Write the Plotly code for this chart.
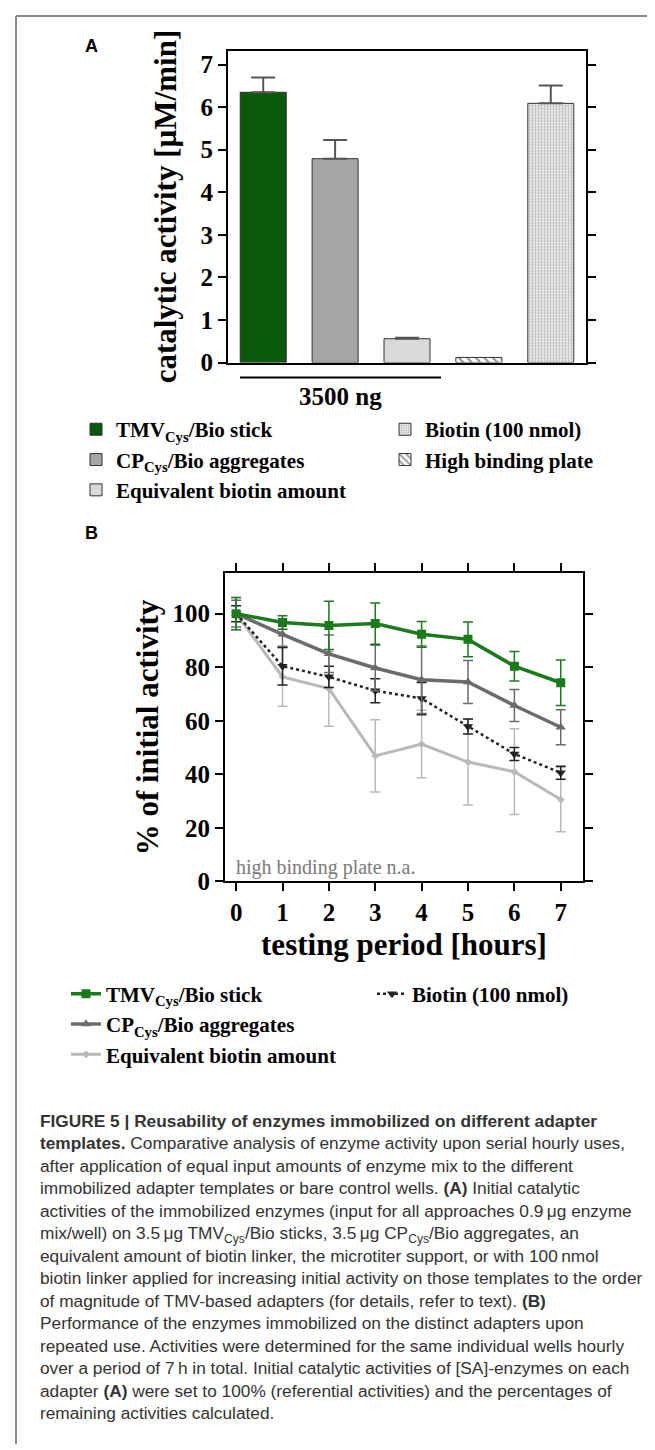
import plotly.graph_objects as go

# ---------------- Panel A data ----------------
cat_a = ["TMV<sub>Cys</sub>/Bio stick", "CP<sub>Cys</sub>/Bio aggregates",
         "Equivalent biotin amount", "High binding plate", "Biotin (100 nmol)"]
pos_a = [0, 1, 2, 3, 4]
act_a = [6.35, 4.79, 0.56, 0.12, 6.09]
err_a = [0.35, 0.44, 0.02, 0.0, 0.42]
legend_col_a = ["legend", "legend", "legend", "legend2", "legend2"]
rank_a = [1, 2, 3, 2, 1]

# ---------------- Panel B data ----------------
hours = [0, 1, 2, 3, 4, 5, 6, 7]
tmv = [100, 96.7, 95.6, 96.3, 92.3, 90.4, 80.4, 74.2]
tmv_err = [6, 2.5, 9, 7.7, 4.8, 6.5, 5.5, 8.5]
cp = [100, 92.3, 85.0, 79.7, 75.3, 74.5, 65.7, 57.6]
cp_err = [5, 4.5, 7, 8.5, 12.6, 8, 6, 6.5]
eq = [100, 76.4, 72.0, 46.9, 51.3, 44.6, 41.0, 30.6]
eq_err = [6, 11, 14, 13.5, 12.6, 16, 16, 12]
bio = [100, 80.4, 76.4, 71.2, 68.3, 57.9, 47.6, 40.6]
bio_err = [3, 7, 4, 4.5, 6, 2.8, 2.4, 2.4]
y_ticks_a = [0, 1, 2, 3, 4, 5, 6, 7]
y_ticks_b = [0, 20, 40, 60, 80, 100]

W, H = 655, 1450
def px(x): return x / W
def py(y): return 1 - y / H

SERIF = "Liberation Serif, Times New Roman, serif"
SANS = "Liberation Sans, Arial, sans-serif"

fig = go.Figure()

bar_styles = [
    dict(color="#0b5a0b", pattern=dict(shape="")),
    dict(color="#a5a5a8", pattern=dict(shape="")),
    dict(color="#d9d9d9", pattern=dict(shape="")),
    dict(color="white", pattern=dict(shape="\\", fgcolor="#222", bgcolor="white", size=6, solidity=0.35)),
    dict(color="white", pattern=dict(shape=".", fgcolor="#777", bgcolor="#f4f4f4", size=3, solidity=0.45)),
]
for i in range(5):
    st = bar_styles[i]
    fig.add_trace(go.Bar(
        x=[pos_a[i]], y=[act_a[i]], name=cat_a[i], width=0.64,
        marker=dict(color=st["color"], pattern=st["pattern"], line=dict(color="#333", width=1)),
        error_y=dict(type="data", array=[err_a[i]], arrayminus=[0], symmetric=False,
                     color="#555", thickness=2, width=12, visible=err_a[i] > 0),
        legend=legend_col_a[i], legendrank=rank_a[i], xaxis="x", yaxis="y",
    ))

# Panel B lines (draw lightest first)
series_b = [
    ("Equivalent biotin amount", eq, eq_err, "#b9b9b9", "solid", 3, "diamond", 6, "legend3", 3),
    ("Biotin (100 nmol)", bio, bio_err, "#222222", "dot", 2.5, "triangle-down", 9, "legend4", 1),
    ("CP<sub>Cys</sub>/Bio aggregates", cp, cp_err, "#6b6b6b", "solid", 3.5, "triangle-up", 9, "legend3", 2),
    ("TMV<sub>Cys</sub>/Bio stick", tmv, tmv_err, "#1b7a1b", "solid", 3.5, "square", 9, "legend3", 1),
]
for name, vals, errs, col, dash, lw, sym, ms, lg, rk in series_b:
    fig.add_trace(go.Scatter(
        x=hours, y=vals, name=name, mode="lines+markers",
        line=dict(color=col, width=lw, dash=dash),
        marker=dict(symbol=sym, size=ms, color=col),
        error_y=dict(type="data", array=errs, color=col, thickness=1.5, width=5),
        legend=lg, legendrank=rk, xaxis="x2", yaxis="y2",
    ))

axis_common = dict(showgrid=False, zeroline=False, linecolor="black", linewidth=2,
                   tickcolor="black", tickwidth=2, ticklen=8,
                   tickfont=dict(family=SERIF, size=25, color="black", weight="bold"))

legend_font = dict(family=SERIF, size=21, color="black", weight="bold")
def leg(x, y):
    return dict(x=px(x), y=py(y), xanchor="left", yanchor="top", orientation="v",
                bgcolor="rgba(0,0,0,0)", font=legend_font, traceorder="normal", itemclick=False)

fig.update_layout(
    width=W, height=H, margin=dict(l=0, r=0, t=0, b=0),
    paper_bgcolor="white", plot_bgcolor="white", barmode="overlay",
    xaxis=dict(domain=[px(220), px(578)], range=[-0.49, 4.49], showticklabels=False,
               ticks="", mirror=True, anchor="y", showgrid=False, zeroline=False,
               linecolor="black", linewidth=2),
    yaxis=dict(domain=[py(358), py(43)], range=[0, 7.33], tickvals=y_ticks_a, ticks="outside",
               mirror="ticks", anchor="x",
               title=dict(text="catalytic activity [µM/min]", standoff=15,
                          font=dict(family=SERIF, size=31, color="black", weight="bold")),
               **axis_common),
    xaxis2=dict(domain=[px(217), px(575)], range=[-0.24, 7.48], tickvals=hours, ticks="outside",
                mirror="ticks", anchor="y2",
                title=dict(text="testing period [hours]", standoff=8,
                           font=dict(family=SERIF, size=31, color="black", weight="bold")),
                **axis_common),
    yaxis2=dict(domain=[py(882), py(571)], range=[0, 115], tickvals=y_ticks_b, ticks="outside",
                mirror="ticks", anchor="x2",
                title=dict(text="% of initial activity", standoff=5,
                           font=dict(family=SERIF, size=31, color="black", weight="bold")),
                **axis_common),
    legend=leg(68, 405),
    legend2=leg(377, 405),
    legend3=leg(58, 975),
    legend4=leg(364, 975),
)

caption = (
    "<b>FIGURE 5 | Reusability of enzymes immobilized on different adapter</b><br>"
    "<b>templates.</b> Comparative analysis of enzyme activity upon serial hourly uses,<br>"
    "after application of equal input amounts of enzyme mix to the different<br>"
    "immobilized adapter templates or bare control wells. <b>(A)</b> Initial catalytic<br>"
    "activities of the immobilized enzymes (input for all approaches 0.9\u2009μg enzyme<br>"
    "mix/well) on 3.5\u2009μg TMV<sub>Cys</sub>/Bio sticks, 3.5\u2009μg CP<sub>Cys</sub>/Bio aggregates, an<br>"
    "equivalent amount of biotin linker, the microtiter support, or with 100\u2009nmol<br>"
    "biotin linker applied for increasing initial activity on those templates to the order<br>"
    "of magnitude of TMV-based adapters (for details, refer to text). <b>(B)</b><br>"
    "Performance of the enzymes immobilized on the distinct adapters upon<br>"
    "repeated use. Activities were determined for the same individual wells hourly<br>"
    "over a period of 7\u2009h in total. Initial catalytic activities of [SA]-enzymes on each<br>"
    "adapter <b>(A)</b> were set to 100% (referential activities) and the percentages of<br>"
    "remaining activities calculated."
)

annos = [
    dict(text="<b>A</b>", x=px(83), y=py(38), font=dict(family=SANS, size=18, color="black")),
    dict(text="<b>B</b>", x=px(83), y=py(530), font=dict(family=SANS, size=18, color="black")),
    dict(text="<b>3500 ng</b>", x=px(332), y=py(392), font=dict(family=SERIF, size=25, color="black")),
    dict(text="high binding plate n.a.", x=px(226), y=py(868), xanchor="left",
         font=dict(family=SERIF, size=20, color="#7a7a7a")),
    dict(text=caption, x=px(30), y=py(1112), xanchor="left", yanchor="top", align="left",
         font=dict(family=SANS, size=17.3, color="#333")),
]
for a in annos:
    a.setdefault("xanchor", "center")
    a.setdefault("yanchor", "middle")
    fig.add_annotation(xref="paper", yref="paper", showarrow=False, **a)

shapes = [
    dict(type="line", xref="paper", yref="paper", x0=px(232), x1=px(433), y0=py(373), y1=py(373),
         line=dict(color="black", width=2)),
    dict(type="line", xref="paper", yref="paper", x0=px(8), x1=px(8), y0=py(8), y1=0,
         line=dict(color="#8a8a8a", width=2)),
    dict(type="line", xref="paper", yref="paper", x0=px(8), x1=1, y0=py(8), y1=py(8),
         line=dict(color="#8a8a8a", width=2)),
]
for s in shapes:
    fig.add_shape(**s)

fig.write_html("out.html")
